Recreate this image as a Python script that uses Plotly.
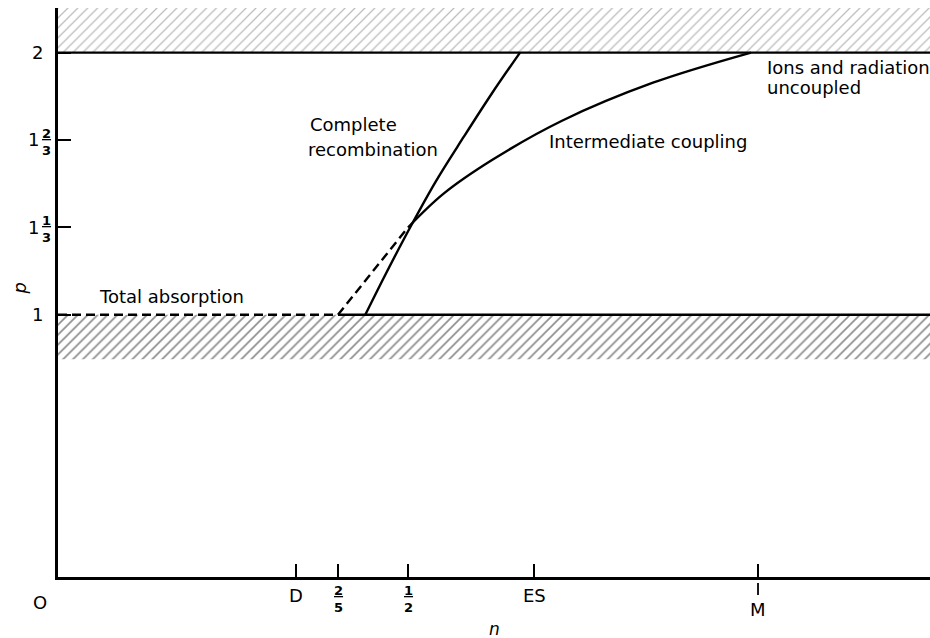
import plotly.graph_objects as go

# ---- data ----
n_max = 1.2457
band_top = [2.0, 2.17]
band_low = [0.83, 1.0]

cr_n = [0.439, 0.47, 0.503, 0.54, 0.58, 0.62, 0.66]
cr_p = [1.0, 1.165, 1.333, 1.51, 1.68, 1.845, 2.0]

ic_n = [0.5, 0.55, 0.62, 0.72, 0.85, 0.99]
ic_p = [1.333, 1.46, 1.59, 1.74, 1.885, 2.0]

icd_n = [0.4, 0.5]
icd_p = [1.0, 1.333]

ta_n = [0.0, 0.4]
ta_p = [1.0, 1.0]

x_ticks = [0.34, 0.4, 0.5, 0.68, 1.0]
x_labels = ["D", "<u>2</u><br>5", "<u>1</u><br>2", "ES", "M"]
y_ticks = [0, 1, 4/3, 5/3, 2]

FONT = "DejaVu Sans"
TS = 18
fig = go.Figure()

def band(lo, hi, fg, sol):
    fig.add_trace(go.Scatter(
        x=[0, n_max, n_max, 0, 0], y=[lo, lo, hi, hi, lo],
        mode="lines", line=dict(width=0), fill="toself",
        fillcolor="rgba(0,0,0,0)",
        fillpattern=dict(shape="/", fgcolor=fg, bgcolor="white", size=7, solidity=sol),
        hoverinfo="skip", showlegend=False))

band(band_top[0], band_top[1], "#7a7a7a", 0.18)
band(band_low[0], band_low[1], "#1a1a1a", 0.24)

line = dict(color="black", width=2.4)
fig.add_trace(go.Scatter(x=[0, n_max], y=[2, 2], mode="lines", line=line, showlegend=False))
fig.add_trace(go.Scatter(x=[ta_n[1], n_max], y=[1, 1], mode="lines", line=line, showlegend=False))
fig.add_trace(go.Scatter(x=ta_n, y=ta_p, mode="lines",
                         line=dict(color="black", width=2.4, dash="9px,5px"), showlegend=False))
fig.add_trace(go.Scatter(x=icd_n, y=icd_p, mode="lines",
                         line=dict(color="black", width=2.4, dash="9px,5px"), showlegend=False))
fig.add_trace(go.Scatter(x=cr_n, y=cr_p, mode="lines", line_shape="spline",
                         line=line, showlegend=False))
fig.add_trace(go.Scatter(x=ic_n, y=ic_p, mode="lines", line_shape="spline",
                         line=line, showlegend=False))

ann = []
def txt(x, y, s, size=TS, xanchor="left", **kw):
    ann.append(dict(x=x, y=y, text=s, showarrow=False, xanchor=xanchor, yanchor="middle",
                    font=dict(family=FONT, size=size, color="black"), **kw))

txt(0.357, 1.725, "Complete")
txt(0.354, 1.63, "recombination")
txt(0.699, 1.66, "Intermediate coupling")
txt(1.01, 1.943, "Ions and radiation")
txt(1.01, 1.866, "uncoupled")
txt(0.056, 1.069, "Total absorption")

for xv, lab in zip(x_ticks, x_labels):
    frac = "<br>" in lab
    if lab == "M":
        ann.append(dict(x=xv, y=0, yref="y", text="M", showarrow=False, yanchor="top",
                        yshift=-20, font=dict(family=FONT, size=TS, color="black")))
    else:
        ann.append(dict(x=xv, y=0, yref="y", text=("<b>%s</b>" % lab) if frac else lab,
                        showarrow=False, yanchor="top", yshift=-4 if frac else -6,
                        font=dict(family=FONT, size=13 if frac else TS, color="black")))
ann.append(dict(x=0, y=0, text="O", showarrow=False, xanchor="center", yanchor="top",
                xshift=-18, yshift=-13, font=dict(family=FONT, size=TS, color="black")))
for yv, whole, frac in [(2, "2", None), (1, "1", None), (4/3, "1", "<u>1</u><br>3"), (5/3, "1", "<u>2</u><br>3")]:
    ann.append(dict(x=0, y=yv, xref="x", text=whole, showarrow=False, xanchor="center",
                    yanchor="middle", xshift=-21 if frac is None else -25,
                    font=dict(family=FONT, size=TS, color="black")))
    if frac:
        ann.append(dict(x=0, y=yv, xref="x", text="<b>%s</b>" % frac, showarrow=False,
                        xanchor="center", yanchor="middle", xshift=-12, yshift=-2,
                        font=dict(family=FONT, size=13, color="black")))
ann.append(dict(x=0.624, y=0, text="<i>n</i>", showarrow=False, yanchor="top",
                yshift=-40, font=dict(family=FONT, size=17, color="black")))
ann.append(dict(x=0, y=1.1, text="<i>p</i>", showarrow=False, textangle=-90,
                xshift=-38, font=dict(family=FONT, size=18, color="black")))

# lower tick under M
fig.add_shape(type="line", xref="x", x0=x_ticks[4], x1=x_ticks[4], yref="paper",
              y0=-6, y1=-18, ysizemode="pixel", yanchor=0,
              line=dict(color="black", width=1.8))

fig.update_layout(
    width=930, height=638,
    margin=dict(l=58, r=0, t=8, b=61),
    paper_bgcolor="white", plot_bgcolor="white",
    annotations=ann,
    xaxis=dict(range=[0, n_max], showgrid=False, zeroline=False, showline=True,
               linecolor="black", linewidth=2.5, ticks="inside", ticklen=13,
               tickwidth=1.8, tickcolor="black", tickvals=x_ticks, showticklabels=False),
    yaxis=dict(range=[0, 2.17], showgrid=False, zeroline=False, showline=True,
               linecolor="black", linewidth=2.5, ticks="inside", ticklen=13,
               tickwidth=1.8, tickcolor="black", tickvals=y_ticks, showticklabels=False),
)

fig.write_html("out.html", config={"displayModeBar": False},
               post_script="document.body.style.margin='0';document.body.style.overflow='hidden';")
